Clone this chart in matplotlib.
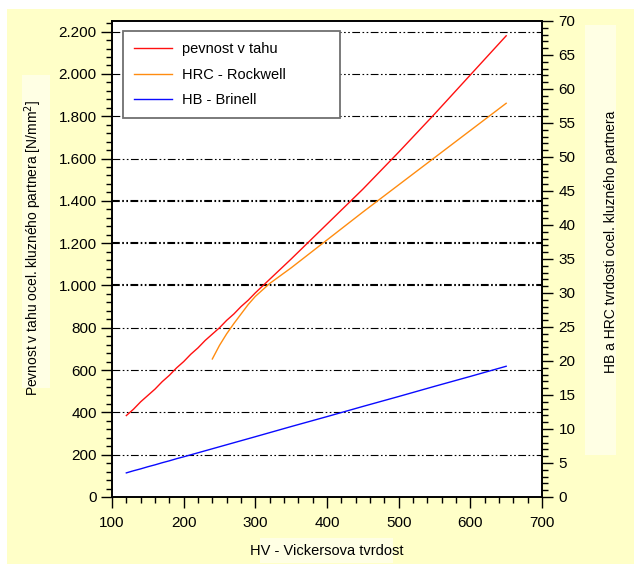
import numpy as np
import matplotlib
matplotlib.use("Agg")
import matplotlib.pyplot as plt
from matplotlib.patches import Rectangle
from matplotlib.ticker import MultipleLocator, FuncFormatter

plt.rcParams["font.family"] = ["Liberation Sans", "DejaVu Sans"]

# HV -> tensile strength (N/mm2), left axis
hv_rm = [120, 130, 140, 150, 160, 170, 180, 190, 200, 210, 220, 230, 240, 250,
         260, 270, 280, 290, 300, 350, 400, 450, 500, 550, 600, 650]
rm = [385, 415, 450, 480, 510, 545, 575, 610, 640, 675, 705, 740, 770, 800,
      835, 865, 900, 930, 965, 1125, 1290, 1455, 1630, 1810, 1995, 2180]

# HV -> HRC, right axis
hv_hrc = [240, 250, 260, 270, 280, 290, 300, 320, 350, 400, 450, 500, 550, 600, 650]
hrc = [20.3, 22.3, 24.0, 25.5, 26.9, 28.3, 29.5, 31.4, 33.7, 37.8, 41.9, 45.9, 49.9, 53.9, 57.9]

# HV -> HB, drawn against left axis
hv_hb = [120, 130, 140, 150, 160, 170, 180, 190, 200, 220, 240, 260, 280, 300,
         350, 400, 450, 500, 550, 600, 650]
hb = [114, 124, 133, 143, 152, 162, 171, 181, 190, 209, 228, 247, 266, 285,
      333, 380, 428, 475, 523, 570, 618]

grid_vals = [200, 400, 600, 800, 1000, 1200, 1400, 1600, 1800, 2000, 2200]
bold_grid = [1000, 1200, 1400]

panel_col = "#FFFFC8"
box_col = "#FFFFE4"

fig = plt.figure(figsize=(6.34, 5.64), dpi=100)
fig.patch.set_facecolor("white")
fig.patches.append(Rectangle((7 / 634, 0), 1, 1 - 9 / 564, transform=fig.transFigure,
                             facecolor=panel_col, edgecolor="none", zorder=-10))
# lighter boxes behind axis titles
for (x0, y0, w, h) in [(22 / 634, 1 - 388 / 564, 28 / 634, 313 / 564),
                       (585 / 634, 1 - 455 / 564, 31 / 634, 430 / 564),
                       (260 / 634, 1 - 563 / 564, 133 / 634, 25 / 564)]:
    fig.patches.append(Rectangle((x0, y0), w, h, transform=fig.transFigure,
                                 facecolor=box_col, edgecolor="none", zorder=-9))

ax = fig.add_axes([112 / 634, 1 - 497 / 564, 430 / 634, 476 / 564])
ax.set_facecolor("white")
ax2 = ax.twinx()

ax.set_xlim(100, 700)
ax.set_ylim(0, 2250)
ax2.set_ylim(0, 70)

for g in grid_vals:
    lw = 1.5 if g in bold_grid else 0.8
    ln, = ax.plot([100, 700], [g, g], color="black", lw=lw, zorder=1)
    ln.set_dashes([7 / lw * 0.8, 2.2 / lw * 0.8, 1.5 / lw * 0.8, 2.2 / lw * 0.8,
                   1.5 / lw * 0.8, 2.2 / lw * 0.8])

l1, = ax.plot(hv_rm, rm, color="#FF1010", lw=1.0, zorder=3, label="pevnost v tahu")
l3, = ax.plot(hv_hb, hb, color="#0A0AFF", lw=1.0, zorder=3, label="HB - Brinell")
l2, = ax2.plot(hv_hrc, hrc, color="#FF8C10", lw=1.0, zorder=3, label="HRC - Rockwell")

ax.xaxis.set_major_locator(MultipleLocator(100))
ax.xaxis.set_minor_locator(MultipleLocator(20))
ax.yaxis.set_major_locator(MultipleLocator(200))
ax.yaxis.set_minor_locator(MultipleLocator(40))
ax.yaxis.set_major_formatter(FuncFormatter(lambda v, p: f"{v:,.0f}".replace(",", ".")))
ax2.yaxis.set_major_locator(MultipleLocator(5))
ax2.yaxis.set_minor_locator(MultipleLocator(1))

for a in (ax, ax2):
    a.tick_params(which="major", direction="out", length=8, width=1, labelsize=11, colors="black")
    a.tick_params(which="minor", direction="out", length=4, width=1)
    for s in a.spines.values():
        s.set_linewidth(1.2)
ax.tick_params(axis="x", pad=6)
ax.tick_params(axis="y", pad=3)
ax2.tick_params(axis="y", pad=4)

leg = ax2.legend(handles=[l1, l2, l3], loc="upper left",
                 bbox_to_anchor=(11 / 430, 466 / 476, 217 / 430, 0), mode="expand",
                 fontsize=10.5, frameon=True, fancybox=False, framealpha=1,
                 edgecolor="#707070", handlelength=2.6, handletextpad=0.7,
                 labelspacing=0.8, borderpad=0.75, borderaxespad=0)
leg.get_frame().set_linewidth(1.3)

fig.text(33 / 634, 1 - 248 / 564, "Pevnost v tahu ocel. kluzného partnera [N/mm$^2$]",
         rotation=90, ha="center", va="center", fontsize=10)
fig.text(611 / 634, 1 - 242 / 564, "HB a HRC tvrdosti ocel. kluzného partnera",
         rotation=90, ha="center", va="center", fontsize=10)
fig.text(327 / 634, 1 - 551 / 564, "HV - Vickersova tvrdost",
         ha="center", va="center", fontsize=10.5)

fig.savefig("out.png", dpi=100, facecolor=fig.get_facecolor())
